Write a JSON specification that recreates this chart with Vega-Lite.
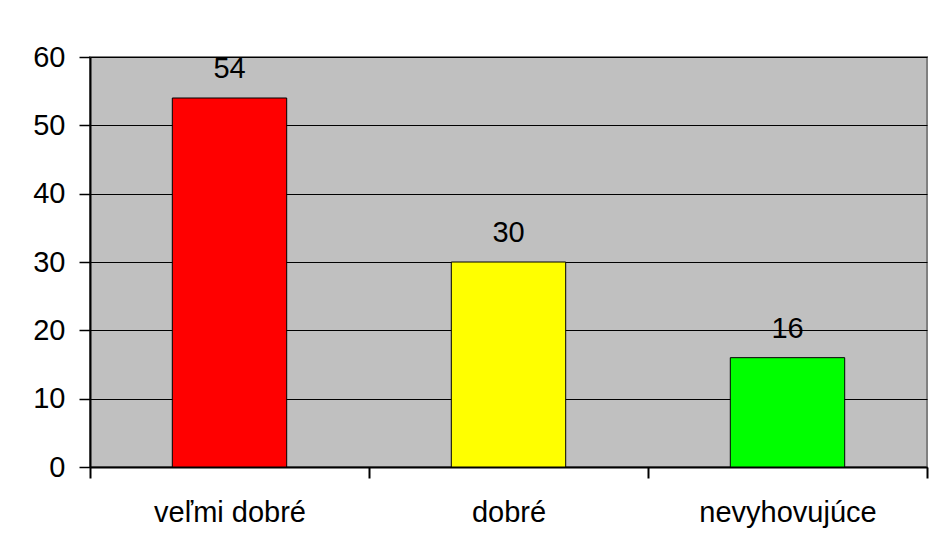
{
  "$schema": "https://vega.github.io/schema/vega-lite/v6.json",
  "autosize": {"type": "none"},
  "padding": {"left": 90, "top": 57, "right": 5, "bottom": 83},
  "width": 837,
  "height": 410,
  "background": "white",
  "data": {"values": [
    {"kategoria": "veľmi dobré", "hodnota": 54, "farba": "#FF0000"},
    {"kategoria": "dobré", "hodnota": 30, "farba": "#FFFF00"},
    {"kategoria": "nevyhovujúce", "hodnota": 16, "farba": "#00FF00"}
  ]},
  "encoding": {
    "x": {
      "field": "kategoria", "type": "nominal", "sort": null,
      "scale": {"paddingInner": 0, "paddingOuter": 0},
      "axis": {
        "title": null, "labelAngle": 0, "labelFont": "Liberation Sans", "labelFontSize": 29,
        "labelColor": "black", "labelPadding": 20, "tickSize": 11, "tickColor": "black",
        "tickWidth": 2, "domainColor": "black", "domainWidth": 2, "tickBand": "extent",
        "grid": false
      }
    },
    "y": {
      "field": "hodnota", "type": "quantitative",
      "scale": {"domain": [0, 60], "nice": false},
      "axis": {
        "title": null, "values": [0, 10, 20, 30, 40, 50, 60], "labelFont": "Liberation Sans",
        "labelFontSize": 29, "labelColor": "black", "labelPadding": 14, "tickSize": 11,
        "tickColor": "black", "tickWidth": 1.5, "domainColor": "black", "domainWidth": 2,
        "grid": true, "gridColor": "black", "gridWidth": 1.2, "gridOpacity": 1
      }
    }
  },
  "layer": [
    {
      "mark": {"type": "bar", "stroke": "black", "strokeWidth": 1, "width": {"band": 0.41}},
      "encoding": {"color": {"field": "farba", "type": "nominal", "scale": null}}
    },
    {
      "mark": {"type": "text", "font": "Liberation Sans", "fontSize": 29, "color": "black", "baseline": "alphabetic", "dy": -20},
      "encoding": {"text": {"field": "hodnota", "type": "quantitative"}}
    }
  ],
  "config": {
    "view": {"fill": "#C0C0C0", "stroke": "#808080", "strokeWidth": 2}
  }
}
